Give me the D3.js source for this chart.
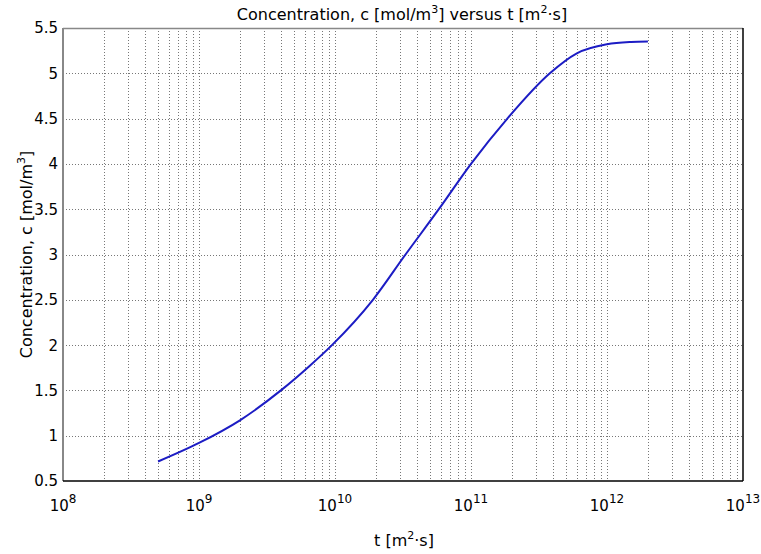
<!DOCTYPE html>
<html>
<head>
<meta charset="utf-8">
<script src="https://cdn.jsdelivr.net/npm/d3@7"></script>
<style>
  body { margin: 0; background: #fff; }
  text { font-family: "DejaVu Sans", Verdana, sans-serif; fill: #000; }
</style>
</head>
<body>
<div id="chart"></div>
<script>
// curve samples (mostly where the curve crosses grid lines)
const tValues = [5e8, 1e9, 2e9, 4e9, 6.5e9, 9.5e9, 1.9e10, 3.3e10, 5.8e10, 1e11, 1.85e11, 3.8e11, 6e11, 1e12, 1.5e12, 2e12];
const cValues = [0.715, 0.92, 1.17, 1.50, 1.77, 2.0, 2.5, 3.0, 3.5, 4.0, 4.5, 5.0, 5.22, 5.32, 5.345, 5.35];
const xExponents = [8, 9, 10, 11, 12, 13];
const yTicks = [0.5, 1, 1.5, 2, 2.5, 3, 3.5, 4, 4.5, 5, 5.5];

const width = 761, height = 554;
const margin = { left: 63, right: 18, top: 28, bottom: 73 };
const innerW = width - margin.left - margin.right;
const innerH = height - margin.top - margin.bottom;

const svg = d3.select('#chart').append('svg')
  .attr('width', width)
  .attr('height', height);

const g = svg.append('g').attr('transform', `translate(${margin.left},${margin.top})`);

const x = d3.scaleLog().domain([1e8, 1e13]).range([0, innerW]);
const y = d3.scaleLinear().domain([0.5, 5.5]).range([innerH, 0]);

// grid lines: major + minor decades on x, every 0.5 on y
const gridX = [];
for (let e = 8; e < 13; e++) {
  for (let m = 1; m < 10; m++) gridX.push(m * Math.pow(10, e));
}
g.append('g').selectAll('line')
  .data(gridX.filter(v => v > 1e8))
  .enter().append('line')
  .attr('x1', d => Math.round(x(d)) + 0.5).attr('x2', d => Math.round(x(d)) + 0.5)
  .attr('y1', 0).attr('y2', innerH)
  .attr('stroke', '#777').attr('stroke-width', 1).attr('stroke-dasharray', '1,2');

g.append('g').selectAll('line')
  .data(yTicks.slice(1, -1))
  .enter().append('line')
  .attr('x1', 0).attr('x2', innerW)
  .attr('y1', d => Math.round(y(d)) + 0.5).attr('y2', d => Math.round(y(d)) + 0.5)
  .attr('stroke', '#777').attr('stroke-width', 1).attr('stroke-dasharray', '1,2');

// frame
g.append('line').attr('x1', 0).attr('x2', innerW).attr('y1', 0.5).attr('y2', 0.5)
  .attr('stroke', '#888').attr('stroke-width', 1.5);
g.append('line').attr('x1', 0).attr('x2', 0).attr('y1', 0).attr('y2', innerH)
  .attr('stroke', '#888').attr('stroke-width', 2);
g.append('line').attr('x1', 0).attr('x2', innerW).attr('y1', innerH).attr('y2', innerH)
  .attr('stroke', '#000').attr('stroke-width', 1.5);
g.append('line').attr('x1', innerW).attr('x2', innerW).attr('y1', 0).attr('y2', innerH)
  .attr('stroke', '#000').attr('stroke-width', 1.5);

// curve
const line = d3.line()
  .x((d, i) => x(tValues[i]))
  .y(d => y(d))
  .curve(d3.curveMonotoneX);
g.append('path')
  .datum(cValues)
  .attr('d', line)
  .attr('fill', 'none')
  .attr('stroke', '#1c1cc4')
  .attr('stroke-width', 2);

// y tick labels
g.append('g').selectAll('text')
  .data(yTicks)
  .enter().append('text')
  .attr('x', -5)
  .attr('y', d => y(d))
  .attr('dy', '0.36em')
  .attr('text-anchor', 'end')
  .style('font-size', '15px')
  .text(d => d);

// x tick labels 10^n
const xl = g.append('g').selectAll('text')
  .data(xExponents)
  .enter().append('text')
  .attr('x', d => x(Math.pow(10, d)))
  .attr('y', innerH + 30)
  .attr('text-anchor', 'middle')
  .style('font-size', '15px');
xl.append('tspan').text('10');
xl.append('tspan').attr('dy', -8).style('font-size', '12px').text(d => d);

// title
const title = svg.append('text')
  .attr('x', 402).attr('y', 20)
  .attr('text-anchor', 'middle')
  .style('font-size', '16px');
title.append('tspan').text('Concentration, c [mol/m');
title.append('tspan').attr('dy', -7).style('font-size', '11px').text('3');
title.append('tspan').attr('dy', 7).text('] versus t [m');
title.append('tspan').attr('dy', -7).style('font-size', '11px').text('2');
title.append('tspan').attr('dy', 7).text('·s]');

// x axis label
const xt = svg.append('text')
  .attr('x', 404).attr('y', 546)
  .attr('text-anchor', 'middle')
  .style('font-size', '16px');
xt.append('tspan').text('t [m');
xt.append('tspan').attr('dy', -7).style('font-size', '11px').text('2');
xt.append('tspan').attr('dy', 7).text('·s]');

// y axis label
const yt = svg.append('text')
  .attr('transform', `translate(32,${margin.top + innerH / 2}) rotate(-90)`)
  .attr('text-anchor', 'middle')
  .style('font-size', '16px');
yt.append('tspan').text('Concentration, c  [mol/m');
yt.append('tspan').attr('dy', -7).style('font-size', '11px').text('3');
yt.append('tspan').attr('dy', 7).text(']');
</script>
</body>
</html>
